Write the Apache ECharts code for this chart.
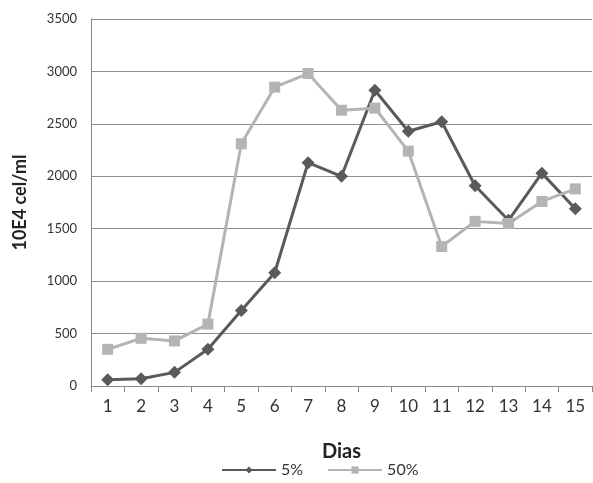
<!DOCTYPE html>
<html>
<head>
<meta charset="utf-8">
<script src="https://cdn.jsdelivr.net/npm/echarts@6/dist/echarts.min.js"></script>
<style>
  html, body { margin: 0; padding: 0; background: #fff; }
  #chart { width: 593px; height: 483px; }
</style>
</head>
<body>
<div id="chart"></div>
<script>
// days on the x axis
const dias = ['1', '2', '3', '4', '5', '6', '7', '8', '9', '10', '11', '12', '13', '14', '15'];
// 10E4 cel/ml
const serie5 = [60, 70, 130, 350, 720, 1080, 2130, 2000, 2820, 2430, 2520, 1910, 1580, 2030, 1690];
const serie50 = [350, 455, 430, 590, 2310, 2850, 2980, 2630, 2650, 2240, 1330, 1570, 1550, 1760, 1880];

const fontFam = 'Lato, "Open Sans", sans-serif';
const chart = echarts.init(document.getElementById('chart'));

chart.setOption({
    animation: false,
    grid: { left: 91, right: 1, top: 19, bottom: 97 },
    legend: {
        bottom: 0,
        left: 216,
        itemWidth: 54,
        itemHeight: 9,
        itemGap: 24,
        textStyle: { fontFamily: fontFam, fontSize: 16, color: '#333' },
        data: ['5%', '50%']
    },
    xAxis: {
        type: 'category',
        data: dias,
        boundaryGap: true,
        name: 'Dias',
        nameLocation: 'middle',
        nameGap: 56,
        nameTextStyle: { fontFamily: fontFam, fontSize: 20, fontWeight: 'bold', color: '#222' },
        axisLine: { lineStyle: { color: '#8a8a8a', width: 1 } },
        axisTick: { show: true, length: 6, lineStyle: { color: '#8a8a8a' } },
        axisLabel: { fontFamily: fontFam, fontSize: 17, color: '#333', margin: 12 }
    },
    yAxis: {
        type: 'value',
        min: 0,
        max: 3500,
        interval: 500,
        name: '10E4 cel/ml',
        nameLocation: 'middle',
        nameGap: 62,
        nameTextStyle: { fontFamily: fontFam, fontSize: 18, fontWeight: 'bold', color: '#222' },
        axisLine: { show: true, lineStyle: { color: '#8a8a8a', width: 1 } },
        axisTick: { show: false },
        axisLabel: {
            fontFamily: fontFam, fontSize: 13, color: '#333', margin: 14,
            formatter: (v) => String(v)
        },
        splitLine: { lineStyle: { color: '#8f8f8f', width: 1 } }
    },
    series: [
        {
            name: '5%',
            type: 'line',
            data: serie5,
            symbol: 'diamond',
            symbolSize: 13,
            itemStyle: { color: '#5a5a5a' },
            lineStyle: { color: '#5a5a5a', width: 3 }
        },
        {
            name: '50%',
            type: 'line',
            data: serie50,
            symbol: 'rect',
            symbolSize: 11,
            itemStyle: { color: '#b4b4b4' },
            lineStyle: { color: '#b4b4b4', width: 3 }
        }
    ]
});
</script>
</body>
</html>
